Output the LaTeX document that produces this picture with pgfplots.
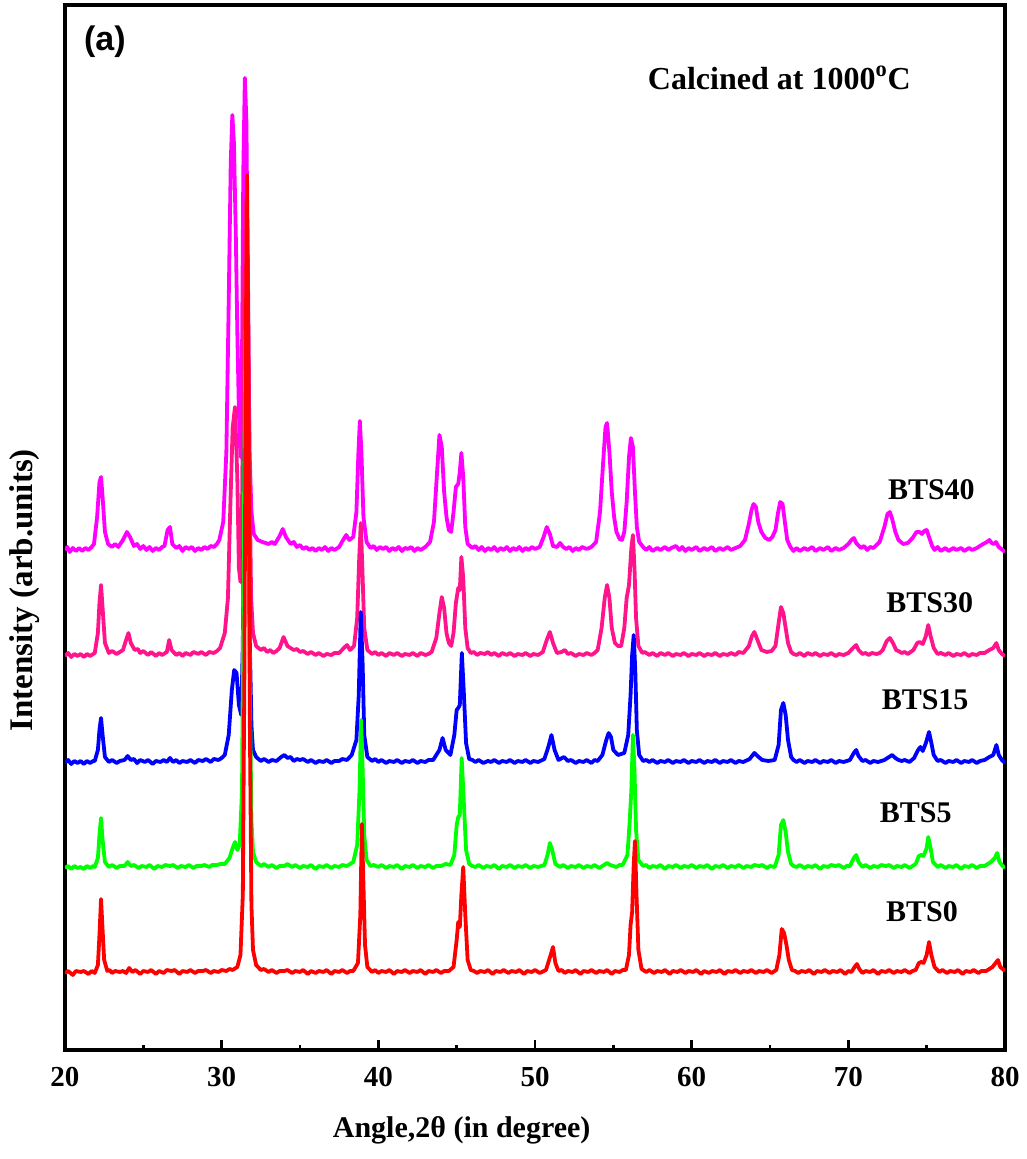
\documentclass[border=0pt]{standalone}
\usepackage{pgfplots}
\pgfplotsset{compat=1.18}
\usepackage{fontspec}
\setmainfont{Liberation Serif}
\newfontfamily\arialfont{Liberation Sans}

\definecolor{bts40}{RGB}{255,0,255}
\definecolor{bts30}{RGB}{255,20,140}
\definecolor{bts15}{RGB}{0,0,255}
\definecolor{bts5}{RGB}{0,255,0}
\definecolor{bts0}{RGB}{255,0,0}

\begin{document}
\begin{tikzpicture}
\begin{axis}[
  scale only axis,
  width=470pt, height=522.5pt,
  xmin=20, xmax=80, ymin=0, ymax=1045,
  xtick={20,30,...,80},
  minor xtick={25,35,...,75},
  xtick pos=bottom,
  tick align=inside,
  major tick length=5pt,
  minor tick length=2.5pt,
  every tick/.style={black, line width=1.3pt},
  ytick=\empty,
  axis line style={line width=2pt},
  /pgf/number format/assume math mode=true,
  xticklabel style={font=\fontsize{14.5}{14.5}\selectfont\bfseries, yshift=-5pt},
  every axis plot/.append style={line width=1.9pt, line join=round},
]

% BTS40
\addplot[bts40, y filter/.expression={y+498}] coordinates {
(20,2) (20.15,5) (20.3,0) (20.5,4) (20.7,1) (20.9,4) (21.1,1) (21.3,4) (21.5,2) (21.7,5) (21.85,8) (22.05,35) (22.2,70) (22.3,75) (22.4,55) (22.55,20) (22.75,8) (23.0,5) (23.2,8) (23.4,5) (23.7,12) (23.95,20) (24.15,15) (24.4,6) (24.6,8) (24.8,3) (25.0,6) (25.2,2) (25.4,5) (25.6,1) (25.8,4) (26.0,2) (26.2,5) (26.35,6) (26.55,22) (26.7,25) (26.85,8) (27.1,4) (27.3,6) (27.5,1) (27.7,5) (27.9,3) (28.1,5) (28.3,1) (28.5,4) (28.7,2) (28.9,5) (29.1,3) (29.3,6) (29.5,5) (29.7,8) (29.85,12) (30.1,30) (30.3,100) (30.45,250) (30.58,390) (30.68,437) (30.78,410) (30.9,320) (31.0,220) (31.1,140) (31.2,95) (31.28,150) (31.38,380) (31.48,474) (31.58,430) (31.68,250) (31.78,100) (31.9,40) (32.05,18) (32.3,12) (32.6,10) (33.0,8) (33.2,10) (33.4,8) (33.7,16) (33.9,23) (34.1,15) (34.4,8) (34.6,10) (34.8,5) (35.0,7) (35.2,3) (35.4,5) (35.6,2) (35.8,4) (36.0,1) (36.2,4) (36.4,2) (36.6,5) (36.8,1) (37.0,4) (37.2,2) (37.5,5) (37.75,12) (37.95,17) (38.15,12) (38.4,15) (38.6,40) (38.73,100) (38.82,131) (38.92,100) (39.05,35) (39.25,10) (39.5,4) (39.7,6) (39.9,2) (40.1,5) (40.3,3) (40.5,5) (40.7,1) (40.9,4) (41.1,2) (41.3,5) (41.5,1) (41.7,4) (41.9,3) (42.1,5) (42.3,1) (42.5,4) (42.7,2) (43.0,5) (43.3,10) (43.55,30) (43.75,80) (43.9,117) (44.05,105) (44.2,60) (44.35,35) (44.5,22) (44.65,20) (44.8,40) (44.95,65) (45.1,68) (45.2,80) (45.3,99) (45.42,75) (45.55,25) (45.7,8) (46.0,4) (46.2,6) (46.4,2) (46.6,5) (46.8,1) (47.0,4) (47.2,2) (47.4,5) (47.6,1) (47.8,4) (48.0,2) (48.2,5) (48.4,1) (48.6,4) (48.8,2) (49.0,5) (49.2,1) (49.4,4) (49.6,2) (49.8,5) (50.0,3) (50.3,5) (50.55,15) (50.75,25) (50.95,18) (51.15,6) (51.4,5) (51.6,9) (51.8,5) (52.0,3) (52.2,5) (52.4,1) (52.6,4) (52.8,2) (53.0,5) (53.3,3) (53.6,5) (53.9,10) (54.15,40) (54.35,90) (54.5,125) (54.6,129) (54.75,100) (54.9,60) (55.05,35) (55.2,20) (55.4,13) (55.55,12) (55.7,20) (55.85,50) (56.0,95) (56.12,114) (56.25,105) (56.38,60) (56.5,25) (56.65,10) (56.9,5) (57.1,2) (57.3,5) (57.5,1) (57.8,4) (58.0,2) (58.3,5) (58.5,2) (58.7,4) (59.0,6) (59.2,2) (59.4,5) (59.6,1) (59.8,4) (60.0,2) (60.3,5) (60.5,1) (60.8,4) (61.0,2) (61.3,5) (61.5,1) (61.8,4) (62.0,2) (62.3,5) (62.5,2) (62.8,4) (63.1,6) (63.4,12) (63.65,28) (63.82,42) (63.95,48) (64.1,45) (64.25,30) (64.45,20) (64.7,14) (64.95,12) (65.15,15) (65.35,22) (65.5,38) (65.65,50) (65.8,48) (65.95,30) (66.1,12) (66.3,5) (66.5,1) (66.7,4) (66.9,1) (67.2,4) (67.4,2) (67.7,5) (67.9,1) (68.2,4) (68.4,2) (68.7,5) (68.9,1) (69.2,4) (69.4,2) (69.7,4) (70.0,8) (70.2,12) (70.35,14) (70.5,9) (70.8,4) (71.0,6) (71.2,2) (71.4,5) (71.6,4) (72.0,10) (72.3,25) (72.5,38) (72.65,40) (72.8,33) (73.0,20) (73.2,12) (73.5,8) (73.8,9) (74.1,14) (74.35,20) (74.55,20) (74.7,18) (74.85,21) (75.0,22) (75.15,15) (75.35,6) (75.5,2) (75.7,5) (75.9,1) (76.2,4) (76.4,1) (76.7,4) (76.9,2) (77.2,4) (77.4,1) (77.7,4) (77.9,2) (78.2,4) (78.6,8) (78.85,10) (79.0,12) (79.15,9) (79.3,8) (79.42,10) (79.6,5) (79.85,2) (80.0,0)
};

% BTS30
\addplot[bts30, y filter/.expression={y+392}] coordinates {
(20,2) (20.2,5) (20.4,1) (20.6,4) (20.8,2) (21,4) (21.2,1) (21.4,4) (21.6,2) (21.8,4) (21.9,5) (22.1,25) (22.2,55) (22.3,73) (22.4,50) (22.55,15) (22.8,5) (23.0,7) (23.3,4) (23.5,6) (23.7,8) (23.9,18) (24.05,25) (24.2,15) (24.45,8) (24.65,9) (24.8,5) (25.0,7) (25.3,3) (25.5,6) (25.8,2) (26.0,5) (26.2,3) (26.5,6) (26.65,18) (26.8,8) (27.1,3) (27.3,5) (27.5,2) (27.7,5) (28.0,3) (28.2,6) (28.5,4) (28.7,6) (29.0,3) (29.2,6) (29.5,5) (29.7,7) (29.9,10) (30.2,25) (30.4,60) (30.55,150) (30.7,230) (30.85,251) (31.0,180) (31.1,90) (31.2,76) (31.3,150) (31.4,330) (31.5,440) (31.58,458) (31.68,380) (31.78,180) (31.88,60) (32.0,25) (32.2,12) (32.5,8) (32.7,10) (32.9,6) (33.1,8) (33.3,5) (33.5,7) (33.7,10) (33.95,21) (34.2,12) (34.4,10) (34.6,8) (34.8,9) (35.0,6) (35.2,7) (35.5,4) (35.7,6) (36.0,3) (36.2,5) (36.5,2) (36.7,4) (37.0,3) (37.2,5) (37.5,5) (37.8,10) (38.0,13) (38.2,8) (38.45,12) (38.65,40) (38.78,100) (38.88,135) (38.98,90) (39.1,30) (39.3,8) (39.6,4) (39.8,6) (40,3) (40.2,5) (40.5,2) (40.7,5) (41,3) (41.2,5) (41.5,2) (41.7,4) (42,3) (42.2,5) (42.5,2) (42.7,5) (43,3) (43.2,4) (43.4,6) (43.7,20) (43.9,45) (44.05,61) (44.2,50) (44.35,25) (44.5,15) (44.65,12) (44.8,25) (44.95,55) (45.1,70) (45.2,68) (45.3,101) (45.42,80) (45.55,30) (45.7,10) (45.9,5) (46.1,6) (46.3,3) (46.5,5) (46.8,4) (47.0,6) (47.2,3) (47.4,5) (47.7,2) (47.9,5) (48.2,3) (48.4,5) (48.7,2) (48.9,4) (49.2,3) (49.4,5) (49.7,2) (49.9,4) (50.2,3) (50.5,6) (50.75,18) (50.95,26) (51.15,15) (51.4,5) (51.7,6) (51.9,8) (52.1,4) (52.3,5) (52.6,2) (52.8,4) (53.1,3) (53.3,5) (53.6,3) (53.8,5) (54.0,8) (54.25,30) (54.45,60) (54.6,73) (54.75,60) (54.9,30) (55.1,15) (55.3,12) (55.5,12) (55.7,30) (55.85,60) (56.0,73) (56.15,110) (56.25,123) (56.35,90) (56.45,40) (56.6,12) (56.85,5) (57.0,6) (57.3,3) (57.5,5) (57.8,2) (58.0,5) (58.3,3) (58.5,5) (58.8,2) (59.0,4) (59.3,3) (59.5,5) (59.8,2) (60.0,4) (60.3,3) (60.5,5) (60.8,2) (61.0,4) (61.3,3) (61.5,5) (61.8,2) (62.0,4) (62.3,3) (62.5,5) (62.8,3) (63.0,6) (63.3,5) (63.65,12) (63.85,22) (64.0,26) (64.2,18) (64.45,8) (64.8,6) (65.1,7) (65.35,12) (65.55,35) (65.7,51) (65.85,45) (66.0,30) (66.15,15) (66.35,6) (66.5,4) (66.7,3) (66.9,5) (67.2,2) (67.4,5) (67.7,3) (67.9,5) (68.2,2) (68.4,4) (68.7,3) (68.9,5) (69.2,2) (69.4,4) (69.7,3) (70.0,5) (70.3,10) (70.5,13) (70.65,8) (70.9,4) (71.1,5) (71.3,3) (71.5,5) (71.8,4) (72.0,5) (72.2,8) (72.45,17) (72.65,20) (72.85,15) (73.05,8) (73.2,7) (73.4,5) (73.6,6) (73.8,4) (74.15,8) (74.4,15) (74.55,16) (74.75,14) (74.95,22) (75.1,33) (75.25,22) (75.45,10) (75.7,4) (75.9,5) (76.2,3) (76.4,5) (76.7,2) (76.9,4) (77.2,3) (77.4,5) (77.7,2) (77.9,4) (78.2,3) (78.4,5) (78.7,5) (79.0,8) (79.25,10) (79.45,15) (79.6,8) (79.8,4) (80.0,2)
};

% BTS15
\addplot[bts15, y filter/.expression={y+285}] coordinates {
(20,2) (20.2,5) (20.4,1) (20.6,4) (20.8,2) (21,4) (21.2,1) (21.4,4) (21.6,2) (21.8,4) (21.9,4) (22.1,15) (22.2,35) (22.3,47) (22.4,30) (22.55,8) (22.8,3) (23.0,5) (23.3,2) (23.5,4) (23.8,5) (24.0,9) (24.2,5) (24.4,6) (24.6,2) (24.8,5) (25.1,3) (25.3,5) (25.6,1) (25.8,4) (26.1,3) (26.3,5) (26.5,3) (26.7,7) (26.9,3) (27.1,5) (27.3,2) (27.5,4) (27.8,3) (28.0,5) (28.3,2) (28.5,5) (28.8,4) (29.0,6) (29.3,3) (29.5,6) (29.8,5) (30.0,7) (30.2,10) (30.45,30) (30.65,75) (30.8,95) (30.95,92) (31.1,60) (31.25,50) (31.35,120) (31.45,300) (31.55,385) (31.62,380) (31.7,300) (31.8,120) (31.9,40) (32.0,15) (32.2,8) (32.5,4) (32.7,6) (33,3) (33.2,5) (33.5,4) (33.8,8) (34.0,10) (34.2,7) (34.4,8) (34.6,4) (34.8,6) (35,5) (35.2,6) (35.5,3) (35.7,5) (36,2) (36.2,4) (36.5,3) (36.7,5) (37,2) (37.2,4) (37.5,4) (37.7,6) (38.0,5) (38.3,10) (38.6,25) (38.75,70) (38.88,153) (39.0,100) (39.1,30) (39.3,8) (39.6,4) (39.8,6) (40,3) (40.2,5) (40.5,2) (40.7,4) (41,3) (41.2,5) (41.5,2) (41.7,4) (42,3) (42.2,5) (42.5,2) (42.7,4) (43,3) (43.2,5) (43.5,5) (43.9,15) (44.1,27) (44.3,15) (44.6,10) (44.85,30) (45.0,55) (45.1,57) (45.2,60) (45.33,112) (45.45,75) (45.6,22) (45.8,6) (46.0,5) (46.2,3) (46.4,5) (46.7,2) (47.0,4) (47.2,3) (47.4,5) (47.7,2) (47.9,4) (48.2,3) (48.4,5) (48.7,2) (48.9,4) (49.2,3) (49.4,5) (49.7,2) (49.9,4) (50.2,3) (50.6,6) (50.85,18) (51.05,30) (51.25,15) (51.5,5) (51.85,8) (52.1,4) (52.3,5) (52.6,2) (52.8,4) (53.1,3) (53.3,5) (53.6,2) (53.8,5) (54.0,4) (54.3,10) (54.55,25) (54.7,32) (54.85,28) (55.0,15) (55.3,10) (55.7,12) (55.95,30) (56.1,70) (56.2,110) (56.3,130) (56.4,95) (56.5,35) (56.65,10) (56.9,4) (57.1,5) (57.3,3) (57.5,5) (57.8,2) (58.0,4) (58.3,3) (58.5,5) (58.8,2) (59.0,4) (59.3,3) (59.5,5) (59.8,2) (60.0,4) (60.3,3) (60.5,5) (60.8,2) (61.0,4) (61.3,3) (61.5,5) (61.8,2) (62.0,4) (62.3,3) (62.5,5) (62.8,2) (63.0,4) (63.3,3) (63.7,6) (64.0,12) (64.2,9) (64.5,5) (64.9,4) (65.3,5) (65.55,20) (65.7,55) (65.85,62) (66.0,50) (66.15,25) (66.35,8) (66.5,5) (66.7,3) (66.9,5) (67.2,2) (67.4,4) (67.7,3) (67.9,5) (68.2,2) (68.4,4) (68.7,3) (68.9,5) (69.2,2) (69.4,4) (69.7,3) (70.1,5) (70.35,12) (70.5,15) (70.65,9) (70.9,4) (71.1,5) (71.4,2) (71.6,4) (71.9,3) (72.3,5) (72.6,8) (72.8,10) (73.0,7) (73.2,5) (73.4,4) (73.6,5) (73.9,3) (74.2,7) (74.45,15) (74.6,18) (74.75,14) (74.95,22) (75.15,33) (75.3,22) (75.45,10) (75.7,4) (75.9,5) (76.2,2) (76.4,4) (76.7,3) (76.9,5) (77.2,2) (77.4,4) (77.7,3) (77.9,5) (78.2,2) (78.4,4) (78.7,5) (79.0,8) (79.25,10) (79.45,20) (79.6,10) (79.8,5) (80.0,2)
};

% BTS5
\addplot[bts5, y filter/.expression={y+180}] coordinates {
(20,2) (20.2,4) (20.4,1) (20.6,4) (20.8,2) (21,3) (21.2,1) (21.4,4) (21.6,2) (21.8,4) (21.9,3) (22.1,12) (22.2,35) (22.3,52) (22.4,30) (22.55,8) (22.8,3) (23.0,5) (23.3,2) (23.5,4) (23.8,4) (24.0,8) (24.2,4) (24.4,5) (24.7,2) (24.9,4) (25.2,3) (25.4,5) (25.7,1) (25.9,4) (26.2,3) (26.4,5) (26.7,4) (26.9,5) (27.2,2) (27.4,4) (27.7,3) (27.9,5) (28.2,2) (28.4,4) (28.7,4) (28.9,5) (29.2,3) (29.4,5) (29.7,5) (29.9,6) (30.2,6) (30.5,12) (30.7,22) (30.85,28) (31.0,20) (31.15,25) (31.3,80) (31.42,350) (31.52,540) (31.6,520) (31.7,400) (31.8,180) (31.9,50) (32.0,18) (32.2,8) (32.5,4) (32.7,6) (33,3) (33.2,5) (33.5,2) (33.7,4) (34,4) (34.2,6) (34.5,3) (34.7,5) (35,2) (35.2,4) (35.5,3) (35.7,5) (36,1) (36.2,4) (36.5,3) (36.7,5) (37,2) (37.2,4) (37.5,3) (37.7,5) (38,4) (38.4,8) (38.65,25) (38.8,80) (38.9,150) (39.0,100) (39.1,35) (39.25,10) (39.5,4) (39.7,5) (40,3) (40.2,5) (40.5,2) (40.7,4) (41,3) (41.2,5) (41.5,1) (41.7,4) (42,3) (42.2,5) (42.5,2) (42.7,4) (43,3) (43.2,5) (43.5,2) (43.7,4) (44.0,4) (44.3,6) (44.6,5) (44.85,15) (45.0,45) (45.1,53) (45.2,55) (45.32,112) (45.45,70) (45.6,20) (45.8,6) (46.0,4) (46.2,3) (46.4,5) (46.7,2) (46.9,4) (47.2,3) (47.4,5) (47.7,1) (47.9,4) (48.2,3) (48.4,5) (48.7,2) (48.9,4) (49.2,3) (49.4,5) (49.7,2) (49.9,4) (50.2,3) (50.6,5) (50.8,15) (50.95,27) (51.1,20) (51.3,6) (51.6,3) (51.8,5) (52.1,2) (52.3,4) (52.6,3) (52.8,5) (53.1,2) (53.3,4) (53.6,3) (53.8,5) (54.1,2) (54.4,5) (54.6,7) (54.8,5) (55.0,4) (55.2,3) (55.4,5) (55.6,5) (55.9,15) (56.05,50) (56.15,80) (56.25,135) (56.35,100) (56.45,40) (56.6,10) (56.9,4) (57.1,5) (57.3,2) (57.5,4) (57.8,3) (58.0,5) (58.3,1) (58.5,4) (58.8,3) (59.0,5) (59.3,2) (59.5,4) (59.8,3) (60.0,5) (60.3,2) (60.5,4) (60.8,3) (61.0,5) (61.3,1) (61.5,4) (61.8,3) (62.0,5) (62.3,2) (62.5,4) (62.8,3) (63.0,5) (63.3,2) (63.5,4) (63.8,3) (64.0,5) (64.3,4) (64.5,5) (64.8,2) (65.0,4) (65.3,3) (65.55,15) (65.7,45) (65.85,50) (66.0,38) (66.15,18) (66.35,6) (66.5,4) (66.7,3) (66.9,5) (67.2,2) (67.4,4) (67.7,3) (67.9,5) (68.2,1) (68.4,4) (68.7,3) (68.9,5) (69.2,4) (69.4,5) (69.7,2) (69.9,4) (70.1,4) (70.35,12) (70.5,15) (70.65,8) (70.9,3) (71.1,5) (71.4,2) (71.6,4) (71.9,3) (72.1,5) (72.4,4) (72.6,5) (72.9,2) (73.1,4) (73.4,3) (73.6,5) (73.9,2) (74.1,4) (74.3,6) (74.5,14) (74.65,15) (74.8,14) (75.0,22) (75.1,33) (75.25,22) (75.4,8) (75.7,3) (75.9,5) (76.2,2) (76.4,4) (76.7,3) (76.9,5) (77.2,1) (77.4,4) (77.7,3) (77.9,5) (78.2,2) (78.4,4) (78.7,4) (79.1,8) (79.35,12) (79.5,17) (79.65,8) (79.85,4) (80.0,2)
};

% BTS0
\addplot[bts0, y filter/.expression={y+75}] coordinates {
(20.0,2) (20.2,4) (20.5,0) (20.7,4) (21.0,3) (21.2,4) (21.5,1) (21.7,4) (21.9,2) (22.1,10) (22.2,40) (22.3,76) (22.4,45) (22.5,15) (22.7,4) (22.85,5) (23.0,2) (23.2,4) (23.5,3) (23.7,4) (23.9,2) (24.1,7) (24.3,3) (24.5,5) (24.8,1) (25.0,4) (25.3,3) (25.5,5) (25.8,1) (26.0,4) (26.3,2) (26.5,5) (26.8,4) (27.0,5) (27.3,1) (27.5,4) (27.8,3) (28.0,5) (28.3,2) (28.5,4) (28.8,4) (29.0,5) (29.3,2) (29.5,4) (29.8,3) (30.0,5) (30.3,4) (30.5,6) (30.7,5) (31.0,8) (31.2,20) (31.35,80) (31.45,300) (31.55,650) (31.62,800) (31.7,620) (31.8,250) (31.9,70) (32.0,25) (32.2,10) (32.5,5) (32.7,6) (33.0,3) (33.2,5) (33.5,2) (33.7,4) (34.0,4) (34.2,5) (34.5,2) (34.7,4) (35.0,3) (35.2,5) (35.5,1) (35.7,4) (36.0,2) (36.2,4) (36.5,3) (36.7,5) (37.0,1) (37.2,4) (37.5,3) (37.7,5) (38.0,2) (38.2,4) (38.4,4) (38.7,12) (38.85,60) (38.95,151) (39.05,90) (39.15,30) (39.3,8) (39.6,3) (39.8,5) (40,2) (40.2,4) (40.5,3) (40.7,5) (41,1) (41.2,4) (41.5,3) (41.7,5) (42,2) (42.2,4) (42.5,3) (42.7,5) (43,1) (43.2,4) (43.5,3) (43.7,5) (44,2) (44.2,4) (44.5,4) (44.8,8) (45.0,35) (45.1,53) (45.2,48) (45.3,80) (45.42,108) (45.55,60) (45.7,15) (45.9,5) (46.1,4) (46.3,2) (46.5,4) (46.8,3) (47.0,5) (47.3,1) (47.5,4) (47.8,3) (48.0,5) (48.3,2) (48.5,4) (48.8,3) (49.0,5) (49.3,1) (49.5,4) (49.8,3) (50.0,5) (50.3,2) (50.7,5) (50.9,15) (51.0,20) (51.15,28) (51.3,12) (51.5,4) (51.7,5) (51.9,2) (52.1,4) (52.4,3) (52.6,5) (52.9,1) (53.1,4) (53.4,3) (53.6,5) (53.9,2) (54.1,4) (54.4,3) (54.6,5) (54.9,1) (55.1,4) (55.4,3) (55.6,5) (55.8,5) (56.0,20) (56.1,50) (56.2,63) (56.3,110) (56.38,134) (56.48,80) (56.6,25) (56.8,6) (57.1,3) (57.3,5) (57.6,2) (57.8,4) (58.1,3) (58.3,5) (58.6,1) (58.8,4) (59.1,3) (59.3,5) (59.6,2) (59.8,4) (60.1,3) (60.3,5) (60.6,1) (60.8,4) (61.1,2) (61.3,4) (61.6,3) (61.8,5) (62.1,1) (62.3,4) (62.6,3) (62.8,5) (63.1,2) (63.3,4) (63.6,3) (63.8,5) (64.1,2) (64.3,4) (64.6,3) (64.8,5) (65.1,2) (65.4,5) (65.6,20) (65.75,46) (65.9,42) (66.05,30) (66.2,15) (66.4,5) (66.6,4) (66.8,2) (67.0,4) (67.3,3) (67.5,5) (67.8,1) (68.0,4) (68.3,3) (68.5,5) (68.8,2) (69.0,4) (69.3,3) (69.5,5) (69.8,1) (70.0,4) (70.2,3) (70.4,8) (70.55,11) (70.7,6) (70.9,2) (71.1,4) (71.4,3) (71.6,5) (71.9,1) (72.1,4) (72.4,3) (72.6,5) (72.9,2) (73.1,4) (73.4,3) (73.6,5) (73.9,2) (74.1,4) (74.3,5) (74.5,12) (74.65,13) (74.8,12) (75.0,20) (75.15,33) (75.3,20) (75.5,8) (75.8,3) (76.0,5) (76.3,2) (76.5,4) (76.8,3) (77.0,5) (77.3,1) (77.5,4) (77.8,3) (78.0,5) (78.3,2) (78.5,4) (78.8,4) (79.2,8) (79.4,12) (79.55,15) (79.7,8) (79.85,6) (80.0,4)
};

% annotations
\node[font=\arialfont\fontsize{17}{17}\selectfont\bfseries] at (axis cs:22.55,1008) {(a)};
\node[font=\fontsize{16}{16}\selectfont\bfseries] at (axis cs:65.6,972) {Calcined at 1000\textsuperscript{o}C};
\node[font=\fontsize{15}{15}\selectfont\bfseries] at (axis cs:75.3,560) {BTS40};
\node[font=\fontsize{15}{15}\selectfont\bfseries] at (axis cs:75.2,447) {BTS30};
\node[font=\fontsize{15}{15}\selectfont\bfseries] at (axis cs:74.9,350) {BTS15};
\node[font=\fontsize{15}{15}\selectfont\bfseries] at (axis cs:74.3,237) {BTS5};
\node[font=\fontsize{15}{15}\selectfont\bfseries] at (axis cs:74.7,138) {BTS0};

\coordinate (bl) at (rel axis cs:0,0);
\coordinate (tr) at (rel axis cs:1,1);
\coordinate (xl) at (rel axis cs:0.422,0);
\coordinate (yl) at (rel axis cs:0,0.44);
\end{axis}

\node[font=\fontsize{15}{15}\selectfont\bfseries] at ([yshift=-40pt]xl) {Angle,2θ (in degree)};
\node[font=\fontsize{16.5}{16.5}\selectfont\bfseries, rotate=90] at ([xshift=-20pt]yl) {Intensity (arb.units)};

\pgfresetboundingbox
\path ([shift={(-32.5pt,-54.5pt)}]bl) rectangle ([shift={(10.5pt,2.5pt)}]tr);
\end{tikzpicture}
\end{document}
